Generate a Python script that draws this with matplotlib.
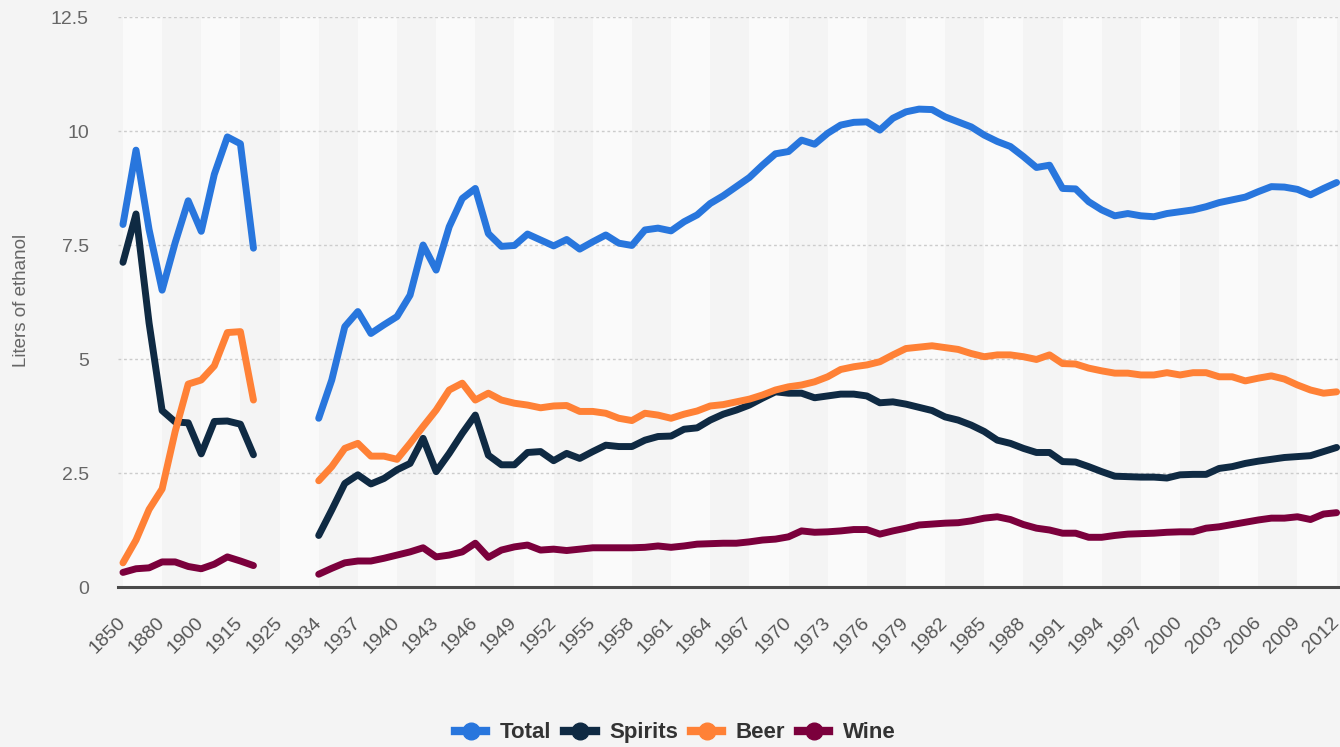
import numpy as np
import matplotlib
matplotlib.use("Agg")
import matplotlib.pyplot as plt
from matplotlib.lines import Line2D

# categories: early period averages, prohibition gap, then yearly from 1934
categories = ['1850', '1860', '1870', '1880', '1890', '1895', '1900', '1905', '1910',
              '1915', '1919', '1920', '1925', '1930', '1933'] + [str(y) for y in range(1934, 2013)]

# liters of ethanol per capita (None = no data, prohibition)
total = [7.95, 9.58, 7.84, 6.51, 7.55, 8.47, 7.80, 9.05, 9.87, 9.72, 7.43,
         None, None, None, None,
         3.70, 4.54, 5.71, 6.04, 5.56, 5.75, 5.93, 6.40, 7.50, 6.95, 7.90, 8.52, 8.74, 7.75, 7.47, 7.49,
         7.74, 7.61, 7.48, 7.62, 7.41, 7.57, 7.72, 7.54, 7.49, 7.83, 7.87, 7.81, 8.01, 8.16, 8.41, 8.58,
         8.78, 8.98, 9.25, 9.50, 9.55, 9.80, 9.71, 9.95, 10.13, 10.19, 10.20, 10.02, 10.28, 10.42, 10.48, 10.47,
         10.31, 10.20, 10.09, 9.91, 9.77, 9.66, 9.44, 9.20, 9.25, 8.74, 8.73, 8.45, 8.27, 8.14, 8.19, 8.14,
         8.12, 8.19, 8.23, 8.27, 8.34, 8.43, 8.49, 8.55, 8.67, 8.78, 8.77, 8.72, 8.60, 8.74, 8.87]
spirits = [7.12, 8.18, 5.79, 3.87, 3.62, 3.60, 2.92, 3.63, 3.64, 3.57, 2.90,
           None, None, None, None,
           1.13, 1.69, 2.27, 2.46, 2.26, 2.38, 2.57, 2.71, 3.26, 2.53, 2.93, 3.37, 3.77, 2.89, 2.68, 2.68,
           2.95, 2.97, 2.77, 2.93, 2.82, 2.97, 3.11, 3.08, 3.08, 3.22, 3.30, 3.31, 3.46, 3.49, 3.66, 3.79,
           3.88, 3.99, 4.14, 4.28, 4.25, 4.25, 4.15, 4.19, 4.23, 4.23, 4.19, 4.04, 4.06, 4.01, 3.94, 3.87,
           3.73, 3.66, 3.55, 3.41, 3.22, 3.15, 3.04, 2.95, 2.95, 2.75, 2.74, 2.64, 2.53, 2.43, 2.42, 2.41,
           2.41, 2.39, 2.46, 2.47, 2.47, 2.60, 2.64, 2.71, 2.76, 2.80, 2.84, 2.86, 2.88, 2.97, 3.06]
beer = [0.53, 1.03, 1.70, 2.15, 3.41, 4.45, 4.54, 4.85, 5.58, 5.60, 4.10,
        None, None, None, None,
        2.33, 2.64, 3.04, 3.15, 2.87, 2.87, 2.80, 3.15, 3.52, 3.88, 4.32, 4.47, 4.10, 4.25, 4.10, 4.03,
        3.99, 3.93, 3.97, 3.98, 3.85, 3.85, 3.81, 3.70, 3.65, 3.81, 3.77, 3.70, 3.79, 3.86, 3.97, 4.00,
        4.06, 4.12, 4.21, 4.32, 4.39, 4.43, 4.50, 4.61, 4.77, 4.83, 4.87, 4.94, 5.09, 5.23, 5.26, 5.29,
        5.25, 5.21, 5.12, 5.05, 5.09, 5.09, 5.05, 4.99, 5.09, 4.90, 4.89, 4.80, 4.74, 4.69, 4.69, 4.65,
        4.65, 4.70, 4.65, 4.70, 4.70, 4.61, 4.61, 4.52, 4.58, 4.63, 4.56, 4.43, 4.32, 4.25, 4.28]
wine = [0.32, 0.40, 0.42, 0.55, 0.55, 0.45, 0.40, 0.50, 0.66, 0.57, 0.47,
        None, None, None, None,
        0.28, 0.41, 0.53, 0.57, 0.57, 0.63, 0.70, 0.77, 0.86, 0.66, 0.70, 0.77, 0.96, 0.65, 0.81, 0.88,
        0.92, 0.81, 0.83, 0.80, 0.83, 0.86, 0.86, 0.86, 0.86, 0.87, 0.90, 0.87, 0.90, 0.94, 0.95, 0.96,
        0.96, 0.99, 1.03, 1.05, 1.10, 1.23, 1.20, 1.21, 1.23, 1.26, 1.26, 1.16, 1.23, 1.29, 1.36, 1.38,
        1.40, 1.41, 1.45, 1.51, 1.54, 1.48, 1.37, 1.29, 1.25, 1.18, 1.18, 1.09, 1.09, 1.13, 1.16, 1.17,
        1.18, 1.20, 1.21, 1.21, 1.29, 1.32, 1.37, 1.42, 1.47, 1.51, 1.51, 1.54, 1.48, 1.60, 1.63]

series_names = ['Total', 'Spirits', 'Beer', 'Wine']
series_colors = ['#2876dd', '#0f2a43', '#ff8136', '#7b003c']

y_ticks = [0, 2.5, 5, 7.5, 10, 12.5]
y_tick_labels = ['0', '2.5', '5', '7.5', '10', '12.5']

plt.rcParams['font.family'] = ['Liberation Sans', 'DejaVu Sans']

bg = '#f4f4f4'
fig = plt.figure(figsize=(13.4, 7.47), dpi=100, facecolor=bg)
ax = fig.add_axes([118 / 1340, 1 - 587 / 747, 1 - 118 / 1340, 570 / 747])
ax.set_facecolor(bg)

x = np.arange(len(categories))

# alternating light bands between labelled ticks
for k in range(0, len(categories), 6):
    ax.axvspan(k, k + 3, color='#fafafa', lw=0, zorder=0)

for name, vals, col in zip(series_names, [total, spirits, beer, wine], series_colors):
    ax.plot(x, np.array(vals, dtype=float), color=col, lw=5,
            solid_joinstyle='round', solid_capstyle='round', zorder=3, label=name)

ax.set_xlim(-0.38, 93.26)
ax.set_ylim(0, 12.5)
ax.set_yticks(y_ticks)
ax.set_yticklabels(y_tick_labels)
ax.yaxis.grid(True, linestyle=(0, (2, 2)), color='#cccccc', lw=1, zorder=1)
ax.axhline(0, color='#4a4a4a', lw=2.2, zorder=2, clip_on=False)
for s in ax.spines.values():
    s.set_visible(False)

ax.set_xticks(x[::3])
ax.set_xticklabels([categories[i] for i in x[::3]], rotation=45, ha='right',
                   rotation_mode='anchor', va='center')
ax.tick_params(axis='x', length=0, pad=24, labelsize=14, labelcolor='#555555')
ax.tick_params(axis='y', length=0, pad=21, labelsize=14, labelcolor='#666666')

fig.text(22 / 1340, 1 - 300 / 747, 'Liters of ethanol', rotation=90, ha='center',
         va='center', fontsize=13.5, color='#666666')

handles = [Line2D([0], [0], color=c, lw=6, marker='o', markersize=12) for c in series_colors]
fig.legend(handles, series_names, loc='center', bbox_to_anchor=(0.504, 0.019), ncol=4,
           frameon=False, prop={'weight': 'bold', 'size': 16}, labelcolor='#333333',
           handlelength=1.4, handletextpad=0.6, columnspacing=0.6)

fig.savefig('out.png', dpi=100, facecolor=bg)
